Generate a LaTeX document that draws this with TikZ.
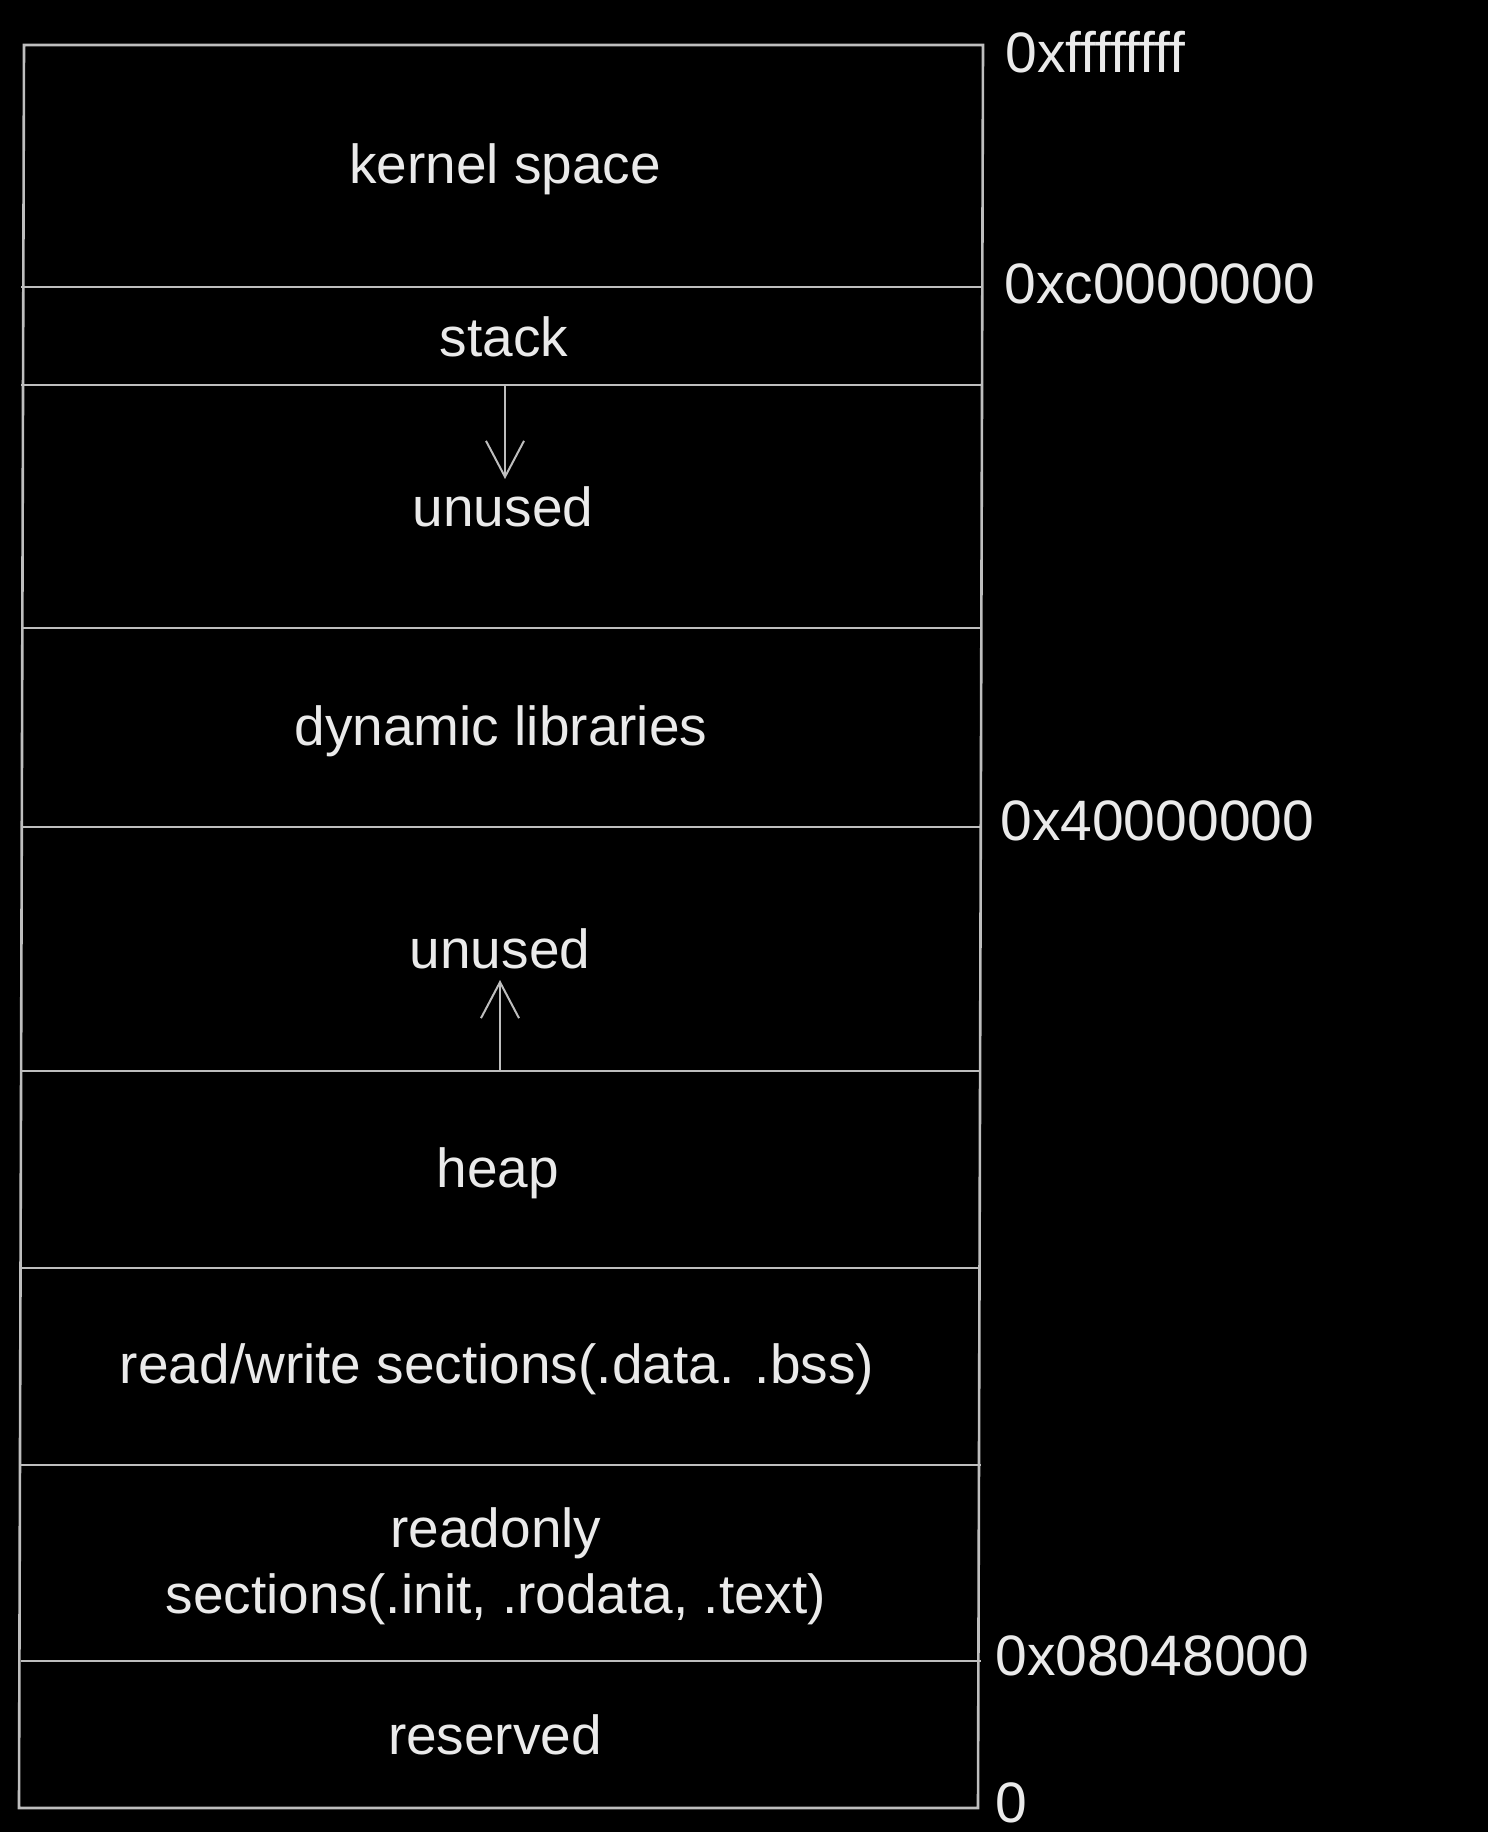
\documentclass[tikz,border=0pt]{standalone}
\usepackage{fontspec}
\setmainfont{Liberation Sans}
\usetikzlibrary{arrows.meta}
\definecolor{linegray}{HTML}{BEBEBE}
\definecolor{textgray}{HTML}{EAEAEA}
\begin{document}
\begin{tikzpicture}[x=0.5pt,y=-0.5pt,
  region/.style={text=textgray,font=\fontsize{27.5}{33}\selectfont,align=center,inner sep=0pt},
  addr/.style={text=textgray,font=\fontsize{28.5}{33}\selectfont,anchor=west,inner sep=0pt},
  wall/.style={draw=linegray,line width=1.3pt},
  growarrow/.style={draw=linegray,line width=1pt,-{Straight Barb[length=18pt,width=19pt,line width=1pt]}}]
\fill[black] (0,0) rectangle (1488,1832);
\useasboundingbox (0,0) rectangle (1488,1832);
% boundaries
\coordinate (tl) at (24,45);
\coordinate (tr) at (983,45);
\coordinate (bl) at (19,1808);
\coordinate (br) at (978,1808);
\draw[wall] (tl) -- (tr) -- (br) -- (bl) -- cycle;
\foreach \y/\n in {287/a,385/b,628/c,827/d,1071/e,1268/f,1465/g,1661/h}{
  \coordinate (L\n) at (21,\y);
  \coordinate (R\n) at (981,\y);
  \draw[wall] (L\n) -- (R\n);
}
% region texts
\node[region] (kernel) at (505,169) {kernel space};
\node[region] (stack) at (504,337) {stack};
\node[region] (unused1) at (503,507) {unused};
\node[region] (dynlib) at (501,731) {dynamic libraries};
\node[region] (unused2) at (500,949) {unused};
\node[region] (heap) at (498,1173) {heap};
\node[region] (rw) at (497,1369) {read/write sections(.data. .bss)};
\node[region] (ro) at (496,1566) {readonly\\[0pt]sections(.init, .rodata, .text)};
\node[region] (reserved) at (495,1735) {reserved};
% growth arrows
\coordinate (sdown0) at (505,385);
\coordinate (sdown1) at (505,479);
\draw[growarrow] (sdown0) -- (sdown1);
\coordinate (hup0) at (500,1071);
\coordinate (hup1) at (500,980);
\draw[growarrow] (hup0) -- (hup1);
% address labels
\node[addr] (a1) at (1005,52) {0xffffffff};
\node[addr] (a2) at (1004,284) {0xc0000000};
\node[addr] (a3) at (1000,821) {0x40000000};
\node[addr] (a4) at (995,1656) {0x08048000};
\node[addr] (a5) at (995,1803) {0};
\end{tikzpicture}
\end{document}
